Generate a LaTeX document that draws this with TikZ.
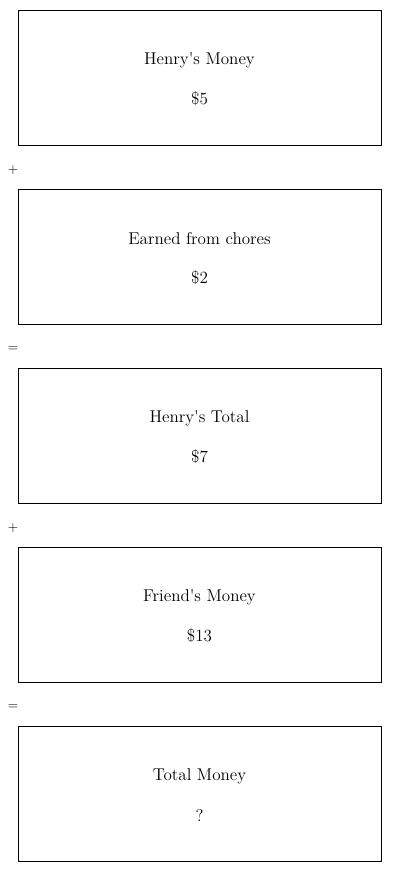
\documentclass[tikz,border=0pt]{standalone}
\begin{document}
\begin{tikzpicture}[x=.75pt,y=-.75pt,font=\fontsize{12.8}{15}\selectfont,
  box/.style={draw,line width=.75pt,minimum width=272.25pt,minimum height=101.25pt,inner sep=0pt}]
\useasboundingbox (0,0) rectangle (400,872);
\foreach \i/\t/\v in {0/Henry\textquotesingle s Money/\$5,1/Earned from chores/\$2,2/Henry\textquotesingle s Total/\$7,3/Friend\textquotesingle s Money/\$13,4/Total Money/?}{\node[box] (box\i) at (199.5,{77.5+179*\i}){};\node (title\i) at (199.5,{60+179*\i}){\t};\node (val\i) at (199.5,{99+179*\i}){\v};}
\foreach \i/\o in {0/+,1/=,2/+,3/=}{\node[font=\fontsize{10}{12}\selectfont] (op\i) at (13,{170+179*\i}){\o};}
\end{tikzpicture}
\end{document}
